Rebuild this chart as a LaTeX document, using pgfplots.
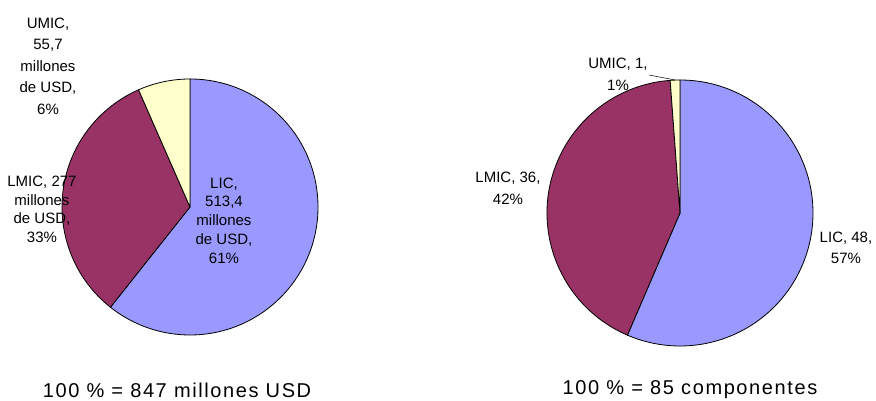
\documentclass[border=0pt]{standalone}
\usepackage{fontspec}
\setmainfont{Liberation Sans}
\newfontfamily\titlefont[LetterSpace=8]{Liberation Sans}
\usepackage{pgfplots}
\usepackage{pgfplotstable}
\pgfplotsset{compat=1.18}

\definecolor{licc}{HTML}{9999FF}
\definecolor{lmicc}{HTML}{993366}
\definecolor{umicc}{HTML}{FFFFCC}

% importe (millones de USD) y numero de componentes por grupo de ingreso
\pgfplotstableread{
cat   value
LIC   513.4
LMIC  277
UMIC  55.7
}\dineros
\pgfplotstableread{
cat   value
LIC   48
LMIC  36
UMIC  1
}\componentes

\newcommand{\getv}[3]{\pgfplotstablegetelem{#2}{value}\of{#1}\let#3\pgfplotsretval}
% slice: cx, cy, r, start angle, end angle, colour
\newcommand{\pieslice}[6]{%
  \filldraw[fill=#6, draw=black, line width=0.8pt, line join=round]
    (axis cs:#1,#2) -- ++(#4:#3) arc[start angle=#4, end angle=#5, radius=#3] -- cycle;}

\begin{document}
\begin{tikzpicture}
  % angles, clockwise from the top
  \getv{\dineros}{0}\dA \getv{\dineros}{1}\dB \getv{\dineros}{2}\dC
  \pgfmathsetmacro\dT{\dA+\dB+\dC}
  \pgfmathsetmacro\dAng{90-360*(\dA/\dT)}
  \pgfmathsetmacro\dBng{\dAng-360*(\dB/\dT)}
  \getv{\componentes}{0}\cA \getv{\componentes}{1}\cB \getv{\componentes}{2}\cC
  \pgfmathsetmacro\cT{\cA+\cB+\cC}
  \pgfmathsetmacro\cAng{90-360*(\cA/\cT)}
  \pgfmathsetmacro\cBng{\cAng-360*(\cB/\cT)}
  \begin{axis}[
      width=876pt, height=401pt, scale only axis,
      xmin=0, xmax=876, ymin=0, ymax=401,
      at={(0,0)}, anchor=south west,
      hide axis, clip=false]
    % left pie
    \pieslice{190}{194}{128pt}{90}{\dAng}{licc}
    \pieslice{190}{194}{128pt}{\dAng}{\dBng}{lmicc}
    \pieslice{190}{194}{128pt}{\dBng}{-270}{umicc}
    % right pie
    \pieslice{680}{188}{133pt}{90}{\cAng}{licc}
    \pieslice{680}{188}{133pt}{\cAng}{\cBng}{lmicc}
    \pieslice{680}{188}{133pt}{\cBng}{-270}{umicc}

    \begin{scope}[every node/.style={align=center, inner sep=0pt,
        font=\fontsize{15}{19.5}\selectfont}]
      \node[font=\fontsize{15}{21.5}\selectfont] at (axis cs:48,335)
        {UMIC,\\55,7\\millones\\de USD,\\6\%};
      \node[font=\fontsize{15}{18.5}\selectfont] at (axis cs:42,191.5)
        {LMIC, 277\\millones\\de USD,\\33\%};
      \node[font=\fontsize{15}{18.8}\selectfont] at (axis cs:224,180.5)
        {LIC,\\513,4\\millones\\de USD,\\61\%};
      \node[font=\fontsize{15}{22}\selectfont] at (axis cs:618,327) {UMIC, 1,\\1\%};
      \node[font=\fontsize{15}{22}\selectfont] at (axis cs:508,213) {LMIC, 36,\\42\%};
      \node[font=\fontsize{15}{21}\selectfont] at (axis cs:846,153.5) {LIC, 48,\\57\%};
    \end{scope}
    \draw[black, line width=0.5pt] (axis cs:649,326) -- (axis cs:675,321);

    \node[font=\titlefont\fontsize{20}{24}\selectfont, inner sep=0pt]
      at (axis cs:177,11) {100 \% = 847 millones USD};
    \node[font=\titlefont\fontsize{20}{24}\selectfont, inner sep=0pt]
      at (axis cs:690,11) {100 \% = 85 componentes};
  \end{axis}
  \pgfresetboundingbox
  \path[use as bounding box] (0,0) rectangle (876pt,401pt);
\end{tikzpicture}
\end{document}
